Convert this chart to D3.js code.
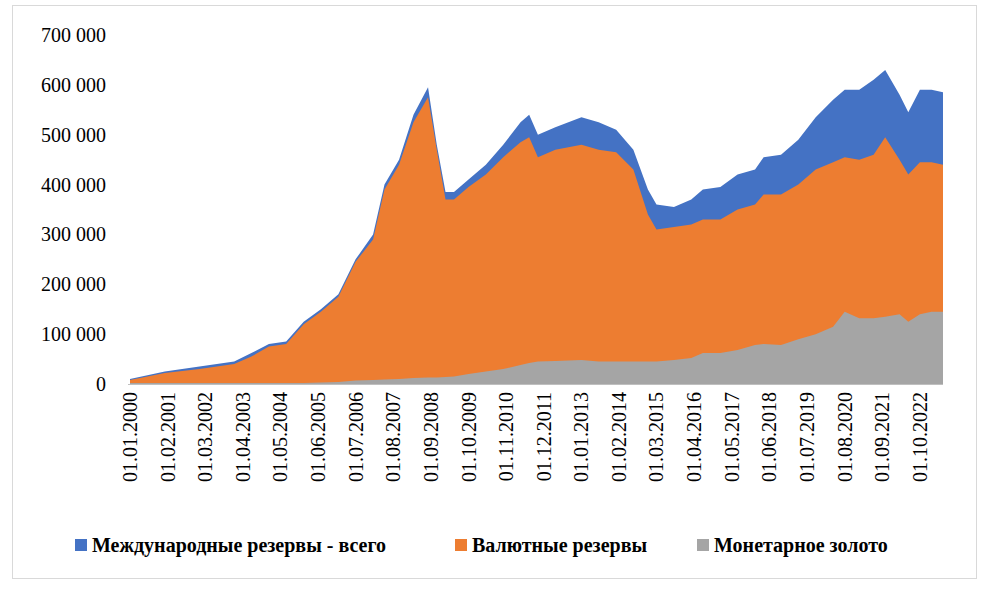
<!DOCTYPE html><html><head><meta charset="utf-8">
<script src="https://d3js.org/d3.v7.min.js"></script>
<style>body{margin:0;background:#fff}</style></head><body><svg id="c" width="988" height="589"></svg>
<script>
const dates=["2000-01","2001-01","2002-01","2003-01","2003-07","2004-01","2004-07","2005-01","2005-07","2006-01","2006-07","2007-01","2007-05","2007-10","2008-03","2008-08","2008-11","2009-02","2009-05","2009-10","2010-04","2010-10","2011-04","2011-07","2011-10","2012-04","2013-01","2013-07","2014-01","2014-07","2014-12","2015-03","2015-09","2016-03","2016-07","2017-01","2017-07","2018-01","2018-04","2018-10","2019-04","2019-10","2020-04","2020-08","2021-01","2021-06","2021-10","2022-03","2022-06","2022-10","2023-02","2023-06"];
const totalReserves=[10,25,35,45,62,80,85,125,150,180,250,300,400,450,540,595,480,385,385,410,440,480,525,540,500,515,535,525,510,470,390,360,355,370,390,395,420,430,455,460,490,535,570,590,590,610,630,580,545,590,590,585].map(v=>v*1000);
const fxReserves=[8,22,30,40,55,75,80,120,145,175,245,290,390,440,525,575,470,370,370,395,420,455,485,495,455,470,480,470,465,430,340,310,315,320,330,330,350,360,380,380,400,430,445,455,450,460,495,450,420,445,445,440].map(v=>v*1000);
const gold=[2,2,2,2,2,2,2,2,3,4,7,8,9,10,12,13,13,14,15,20,25,30,38,42,45,46,48,45,45,45,45,45,48,52,62,62,68,78,80,78,90,100,115,145,132,132,135,140,125,140,145,145].map(v=>v*1000);
const yTicks=[0,100000,200000,300000,400000,500000,600000,700000];
const xTickLabels=["01.01.2000","01.02.2001","01.03.2002","01.04.2003","01.05.2004","01.06.2005","01.07.2006","01.08.2007","01.09.2008","01.10.2009","01.11.2010","01.12.2011","01.01.2013","01.02.2014","01.03.2015","01.04.2016","01.05.2017","01.06.2018","01.07.2019","01.08.2020","01.09.2021","01.10.2022"];
const legendItems=[["Международные резервы - всего","#4472C4"],["Валютные резервы","#ED7D31"],["Монетарное золото","#A5A5A5"]];

const svg=d3.select("#c");
svg.append("rect").attr("x",12.5).attr("y",5.5).attr("width",964).attr("height",573).attr("fill","none").attr("stroke","#d9d9d9");
const pd=d3.timeParse("%Y-%m");
const pl=d3.timeParse("%d.%m.%Y");
const D=dates.map(pd);
const x=d3.scaleTime().domain([pd("2000-01"),pd("2023-06")]).range([130,943]);
const y=d3.scaleLinear().domain([0,700000]).range([384,35]);
const font="'Liberation Serif','Times New Roman',serif";
yTicks.forEach(t=>{svg.append("text").attr("x",106).attr("y",y(t)).attr("dy","0.35em").attr("text-anchor","end").attr("font-family",font).attr("font-size",20).text(d3.format(",")(t).replace(/,/g," "));});
function area(vals,col){svg.append("path").datum(vals).attr("fill",col).attr("d",d3.area().x((d,i)=>x(D[i])).y0(y(0)).y1(d=>y(d)));}
area(totalReserves,"#4472C4");area(fxReserves,"#ED7D31");area(gold,"#A5A5A5");
svg.append("line").attr("x1",128).attr("x2",943).attr("y1",384.5).attr("y2",384.5).attr("stroke","#bfbfbf");
xTickLabels.forEach(l=>{const xx=x(pl(l));svg.append("text").attr("transform",`translate(${xx},392) rotate(-90)`).attr("text-anchor","end").attr("dy","0.35em").attr("font-family",font).attr("font-size",20).text(l);});
const lx=[75,455,697];
legendItems.forEach((d,i)=>{svg.append("rect").attr("x",lx[i]).attr("y",539).attr("width",12).attr("height",12).attr("fill",d[1]);
svg.append("text").attr("x",lx[i]+17).attr("y",545).attr("dy","0.35em").attr("font-family",font).attr("font-size",20).attr("font-weight","bold").text(d[0]);});
</script></body></html>
